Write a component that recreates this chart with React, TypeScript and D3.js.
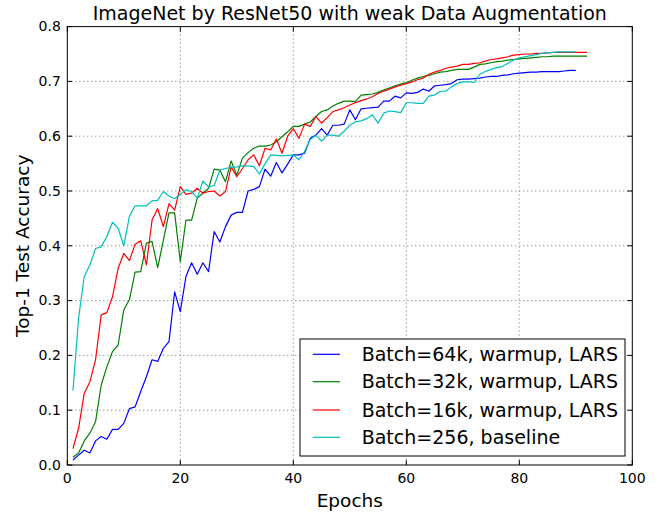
import React from "react";
import * as d3 from "d3";

const title = "ImageNet by ResNet50 with weak Data Augmentation";
const xLabel = "Epochs";
const yLabel = "Top-1 Test Accuracy";
const xTicks = [0, 20, 40, 60, 80, 100];
const yTicks = [0.0, 0.1, 0.2, 0.3, 0.4, 0.5, 0.6, 0.7, 0.8];

const seriesNames = [
  "Batch=64k, warmup, LARS",
  "Batch=32k, warmup, LARS",
  "Batch=16k, warmup, LARS",
  "Batch=256, baseline",
];
const seriesColors = ["#0000ff", "#008000", "#ff0000", "#00bfbf"];

const blue64k = [
  0.009, 0.018, 0.027, 0.022, 0.044, 0.052, 0.047, 0.065, 0.065, 0.076,
  0.103, 0.106, 0.134, 0.161, 0.192, 0.189, 0.213, 0.225, 0.316, 0.28,
  0.344, 0.369, 0.348, 0.369, 0.353, 0.426, 0.407, 0.435, 0.456, 0.461,
  0.461, 0.5, 0.503, 0.508, 0.54, 0.527, 0.552, 0.533, 0.549, 0.566,
  0.566, 0.569, 0.596, 0.602, 0.614, 0.602, 0.62, 0.62, 0.622, 0.648,
  0.63, 0.65, 0.651, 0.652, 0.653, 0.664, 0.664, 0.673, 0.67, 0.679,
  0.678, 0.68, 0.686, 0.682, 0.692, 0.693, 0.694, 0.696, 0.703, 0.704,
  0.704, 0.705, 0.706, 0.708, 0.709, 0.709, 0.711, 0.712, 0.714, 0.715,
  0.716, 0.717, 0.717, 0.718, 0.718, 0.718, 0.718, 0.719, 0.72, 0.72,
];

const green32k = [
  0.014, 0.022, 0.044, 0.058, 0.079, 0.146, 0.179, 0.207, 0.219, 0.283,
  0.302, 0.352, 0.353, 0.405, 0.408, 0.36, 0.41, 0.46, 0.46, 0.371,
  0.447, 0.447, 0.487, 0.496, 0.505, 0.54, 0.538, 0.517, 0.555, 0.529,
  0.56, 0.57, 0.578, 0.582, 0.582, 0.584, 0.59, 0.599, 0.608, 0.618,
  0.618, 0.622, 0.626, 0.636, 0.645, 0.648, 0.655, 0.66, 0.664, 0.664,
  0.663, 0.675, 0.676, 0.677, 0.68, 0.684, 0.688, 0.692, 0.695, 0.698,
  0.702, 0.706, 0.709, 0.711, 0.714, 0.717, 0.718, 0.72, 0.722, 0.722,
  0.722, 0.726, 0.731, 0.732, 0.734, 0.736, 0.737, 0.739, 0.74, 0.741,
  0.742, 0.743, 0.744, 0.745, 0.745, 0.746, 0.746, 0.746, 0.746, 0.746,
  0.746, 0.746,
];

const red16k = [
  0.03, 0.067, 0.131, 0.152, 0.192, 0.274, 0.278, 0.307, 0.359, 0.386,
  0.373, 0.403, 0.409, 0.365, 0.447, 0.468, 0.435, 0.477, 0.465, 0.508,
  0.494, 0.496, 0.505, 0.496, 0.499, 0.5, 0.491, 0.499, 0.544, 0.526,
  0.541, 0.557, 0.566, 0.546, 0.578, 0.575, 0.595, 0.569, 0.6, 0.614,
  0.596, 0.622, 0.618, 0.636, 0.624, 0.634, 0.645, 0.648, 0.652, 0.657,
  0.661, 0.665, 0.668, 0.672, 0.678, 0.682, 0.686, 0.69, 0.693, 0.696,
  0.699, 0.703, 0.706, 0.713, 0.717, 0.72, 0.724, 0.726, 0.728, 0.731,
  0.731, 0.733, 0.734, 0.737, 0.74, 0.741, 0.743, 0.745, 0.748, 0.749,
  0.75, 0.75, 0.751, 0.751, 0.752, 0.753, 0.753, 0.753, 0.753, 0.753,
  0.753, 0.753,
];

const cyanBaseline = [
  0.136, 0.268, 0.344, 0.365, 0.395, 0.398, 0.417, 0.443, 0.432, 0.4,
  0.454, 0.473, 0.473, 0.473, 0.482, 0.483, 0.499, 0.491, 0.486, 0.494,
  0.502, 0.499, 0.487, 0.518, 0.507, 0.51, 0.538, 0.541, 0.543, 0.544,
  0.546, 0.546, 0.545, 0.531, 0.55, 0.566, 0.565, 0.564, 0.565, 0.566,
  0.557, 0.572, 0.594, 0.602, 0.591, 0.602, 0.602, 0.6, 0.609, 0.62,
  0.626, 0.628, 0.632, 0.639, 0.624, 0.642, 0.646, 0.645, 0.643, 0.661,
  0.661, 0.66, 0.66, 0.673, 0.675, 0.682, 0.682, 0.69, 0.696, 0.699,
  0.699, 0.698, 0.713, 0.718, 0.722, 0.725, 0.727, 0.733, 0.739, 0.743,
  0.745, 0.747, 0.749, 0.751, 0.752, 0.753, 0.754, 0.754, 0.754, 0.754,
];

const allSeries = [blue64k, green32k, red16k, cyanBaseline];

const W = 663;
const H = 514;
const M = { left: 67.3, right: 632.3, top: 26.6, bottom: 465 };
const FONT = "DejaVu Sans, sans-serif";

export default function App() {
  const x = d3.scaleLinear().domain([0, 100]).range([M.left, M.right]);
  const y = d3.scaleLinear().domain([0, 0.8]).range([M.bottom, M.top]);
  const line = d3
    .line<number>()
    .x((_, i) => x(i + 1))
    .y((d) => y(d));

  const tickLen = 5;
  const legend = { x0: 300, y0: 339, x1: 625, y1: 456 };
  const rowY = [354.3, 381.7, 410, 437.3];

  return (
    <div style={{ position: "fixed", left: 0, top: 0 }}>
      <svg width={W} height={H} style={{ display: "block", background: "#fff" }}>
        <rect x={0} y={0} width={W} height={H} fill="#fff" />
        <defs>
          <clipPath id="clip">
            <rect x={M.left} y={M.top} width={M.right - M.left} height={M.bottom - M.top} />
          </clipPath>
        </defs>
        {/* grid */}
        {xTicks.slice(1, -1).map((t) => (
          <line key={"gx" + t} x1={x(t)} x2={x(t)} y1={M.top} y2={M.bottom}
            stroke="#000" strokeOpacity={0.55} strokeWidth={1} strokeDasharray="1,3" />
        ))}
        {yTicks.slice(1, -1).map((t) => (
          <line key={"gy" + t} x1={M.left} x2={M.right} y1={y(t)} y2={y(t)}
            stroke="#000" strokeOpacity={0.55} strokeWidth={1} strokeDasharray="1,3" />
        ))}
        {/* series */}
        <g clipPath="url(#clip)">
          {allSeries.map((s, i) => (
            <path key={i} d={line(s) || ""} fill="none" stroke={seriesColors[i]}
              strokeWidth={1.2} strokeLinejoin="round" />
          ))}
        </g>
        {/* ticks inward */}
        {xTicks.map((t) => (
          <g key={"tx" + t}>
            <line x1={x(t)} x2={x(t)} y1={M.bottom} y2={M.bottom - tickLen} stroke="#000" />
            <line x1={x(t)} x2={x(t)} y1={M.top} y2={M.top + tickLen} stroke="#000" />
            <text x={x(t)} y={M.bottom + 18} textAnchor="middle" fontFamily={FONT} fontSize={14} fill="#000">
              {t}
            </text>
          </g>
        ))}
        {yTicks.map((t) => (
          <g key={"ty" + t}>
            <line x1={M.left} x2={M.left + tickLen} y1={y(t)} y2={y(t)} stroke="#000" />
            <line x1={M.right} x2={M.right - tickLen} y1={y(t)} y2={y(t)} stroke="#000" />
            <text x={M.left - 6.5} y={y(t) + 4.8} textAnchor="end" fontFamily={FONT} fontSize={14} fill="#000">
              {t.toFixed(1)}
            </text>
          </g>
        ))}
        {/* frame */}
        <rect x={M.left} y={M.top} width={M.right - M.left} height={M.bottom - M.top}
          fill="none" stroke="#000" strokeWidth={1} />
        {/* title & labels */}
        <text x={(M.left + M.right) / 2} y={19.5} textAnchor="middle" fontFamily={FONT} fontSize={19} fill="#000">
          {title}
        </text>
        <text x={(M.left + M.right) / 2} y={507} textAnchor="middle" fontFamily={FONT} fontSize={18.5} fill="#000">
          {xLabel}
        </text>
        <text transform={`translate(29, ${(M.top + M.bottom) / 2}) rotate(-90)`} textAnchor="middle"
          fontFamily={FONT} fontSize={18.5} fill="#000">
          {yLabel}
        </text>
        {/* legend */}
        <rect x={legend.x0} y={legend.y0} width={legend.x1 - legend.x0} height={legend.y1 - legend.y0}
          fill="#fff" stroke="#000" strokeWidth={1} />
        {seriesNames.map((n, i) => (
          <g key={n}>
            <line x1={312.7} x2={340} y1={rowY[i]} y2={rowY[i]} stroke={seriesColors[i]} strokeWidth={1.2} />
            <text x={361.7} y={rowY[i] + 6.5} fontFamily={FONT} fontSize={19} fill="#000">
              {n}
            </text>
          </g>
        ))}
      </svg>
    </div>
  );
}
